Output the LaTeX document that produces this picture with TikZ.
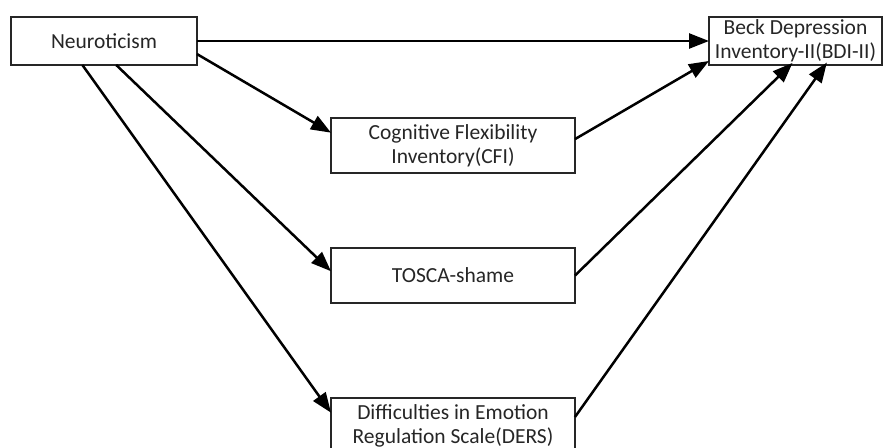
\documentclass[tikz,border=0pt]{standalone}
\usepackage{fontspec}
\setmainfont{Carlito}
\usetikzlibrary{arrows.meta}
\begin{document}
\begin{tikzpicture}[x=1pt,y=-1pt,
  box/.style={draw=black!85, line width=1.3pt, fill=white, align=center, inner sep=0pt, outer sep=0pt,
    text=black!85, font=\fontsize{21.5}{24}\selectfont},
  con/.style={line width=2.5pt, -{Triangle[length=20pt,width=15pt]}}]
\useasboundingbox (0,0) rectangle (883,447);
\clip (0,0) rectangle (883,447);
\node[box, minimum width=186pt, minimum height=48pt] (N) at (104,41) {Neuroticism};
\node[box, minimum width=173pt, minimum height=48pt] (BDI) at (795.5,41) {Beck Depression\\Inventory-II(BDI-II)};
\node[box, minimum width=244pt, minimum height=55pt] (CFI) at (453,145.5) {Cognitive Flexibility\\Inventory(CFI)};
\node[box, minimum width=244pt, minimum height=55pt] (TOSCA) at (453,275.5) {TOSCA-shame};
\node[box, minimum width=244pt, minimum height=55pt] (DERS) at (453,425.5) {Difficulties in Emotion\\Regulation Scale(DERS)};
\draw[con] (N.east) -- (BDI.west);
\draw[con] (N.-8.6) -- (CFI.174.6);
\draw[con] (N.-63.4) -- (TOSCA.178.8);
\draw[con] (N.-132.5) -- (DERS.174.2);
\draw[con] (CFI.3.0) -- (BDI.-167.6);
\draw[con, shorten >=-3pt] (TOSCA.-0.7) -- (BDI.-102.9);
\draw[con, shorten >=-3pt] (DERS.4.9) -- (BDI.-39.1);
\end{tikzpicture}
\end{document}
